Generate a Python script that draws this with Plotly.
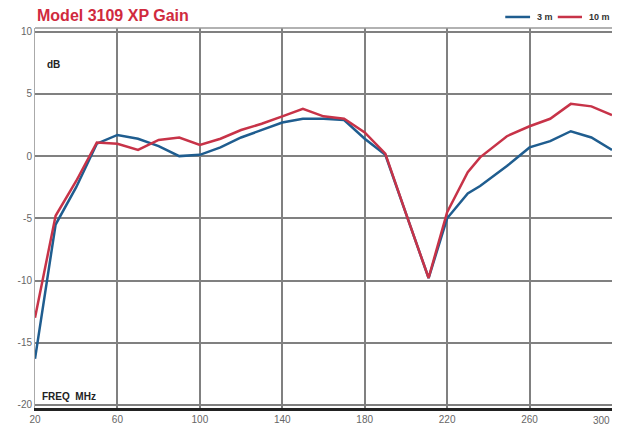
import plotly.graph_objects as go

freq = [20, 30, 40, 50, 60, 70, 80, 90, 100, 110, 120, 130, 140, 150, 160, 170, 180, 190, 200, 211, 220, 230, 236, 249, 260, 270, 280, 290, 300]
gain_3m = [-16.3, -5.5, -2.5, 1.0, 1.7, 1.4, 0.8, 0.0, 0.1, 0.7, 1.5, 2.1, 2.7, 3.0, 3.0, 2.9, 1.4, 0.1, -4.6, -9.8, -5.0, -3.0, -2.4, -0.8, 0.7, 1.2, 2.0, 1.5, 0.5]
gain_10m = [-13.0, -4.8, -2.0, 1.1, 1.0, 0.5, 1.3, 1.5, 0.9, 1.4, 2.1, 2.6, 3.2, 3.8, 3.2, 3.0, 1.9, 0.2, -4.6, -9.8, -4.5, -1.3, -0.1, 1.6, 2.4, 3.0, 4.2, 4.0, 3.3]
series_names = ["3 m", "10 m"]
series_colors = ["#1f5d8f", "#c73348"]
x_ticks = [20, 60, 100, 140, 180, 220, 260]
x_last_tick = 300
y_ticks = [-20, -15, -10, -5, 0, 5, 10]

fig = go.Figure()
for name, vals, col in zip(series_names, [gain_3m, gain_10m], series_colors):
    fig.add_trace(go.Scatter(x=freq, y=vals, mode="lines", name=name,
                             line=dict(color=col, width=2.5)))

fig.update_layout(
    width=619, height=432,
    margin=dict(l=35, r=7, t=28, b=22),
    paper_bgcolor="white", plot_bgcolor="white",
    font=dict(family="Liberation Sans", size=10, color="#555"),
    showlegend=False,
    title=dict(text="<b>Model 3109 XP Gain</b>", x=37 / 619, xanchor="left", xref="container",
               y=0.965, yanchor="middle",
               font=dict(size=16, color="#d02a3e", family="Liberation Sans")),
)
fig.update_xaxes(range=[20, 300], tickvals=x_ticks + [x_last_tick],
                 ticktext=[str(v) for v in x_ticks] + [""],
                 showgrid=True, gridcolor="#808080", gridwidth=1.5,
                 zeroline=False, showline=True, linecolor="#222", linewidth=3,
                 ticks="", tickfont=dict(size=10, color="#666"), mirror=False)
fig.update_yaxes(range=[-20.25, 10.3], tickvals=y_ticks, ticktext=[str(v) for v in y_ticks],
                 showgrid=True, gridcolor="#808080", gridwidth=1.5,
                 zeroline=False, showline=True, linecolor="#aaa", linewidth=1,
                 ticks="", tickfont=dict(size=10, color="#666"))
fig.add_shape(type="line", xref="paper", yref="paper", x0=0, x1=1, y0=1, y1=1,
              line=dict(color="#999", width=1.5))

# manual legend
leg = [(0.815, 0.858, 0.866), (0.906, 0.948, 0.956)]
for (x0, x1, xt), name, col in zip(leg, series_names, series_colors):
    fig.add_shape(type="line", xref="paper", yref="paper", x0=x0, x1=x1, y0=1.029, y1=1.029,
                  line=dict(color=col, width=2.5))
    fig.add_annotation(text="<b>" + name + "</b>", xref="paper", yref="paper", x=xt, y=1.029,
                       xanchor="left", yanchor="middle", showarrow=False,
                       font=dict(size=9, color="#333"))

fig.add_annotation(text=str(x_last_tick), x=x_last_tick, xref="x", yref="paper", y=0,
                   yshift=-12, xanchor="right", yanchor="middle", showarrow=False,
                   font=dict(size=10, color="#666"))
fig.add_annotation(text="<b>dB</b>", xref="paper", yref="paper", x=0.018, y=0.905,
                   xanchor="left", yanchor="middle", showarrow=False,
                   font=dict(size=10, color="#222"))
fig.add_annotation(text="<b>FREQ  MHz</b>", xref="paper", yref="paper", x=0.008, y=0.03,
                   xanchor="left", yanchor="middle", showarrow=False,
                   font=dict(size=10, color="#222"))

fig.write_html("out.html")
